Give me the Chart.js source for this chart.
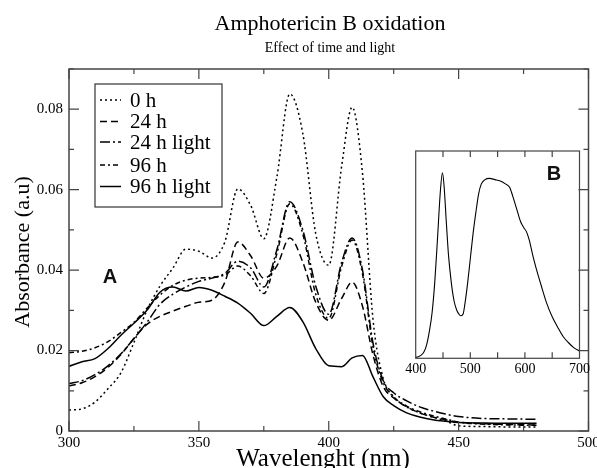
<!DOCTYPE html>
<html><head><meta charset="utf-8">
<script src="https://cdn.jsdelivr.net/npm/chart.js@4.4.1/dist/chart.umd.min.js"></script>
<style>
html,body{margin:0;padding:0;background:#fff;}
#wrap{position:relative;width:597px;height:468px;overflow:hidden;}
#main{position:absolute;left:0;top:0;width:597px;height:468px;}
#inset{position:absolute;left:400px;top:140px;width:197px;height:245px;}
</style></head><body>
<div id="wrap">
<canvas id="main" width="597" height="468"></canvas>
<canvas id="inset" width="197" height="245"></canvas>
</div>
<script>
// ---- data ----
const wavelengths = [300,305,310,315,320,325,330,335,340,345,350,355,360,365,370,375,380,385,390,395,400,405,409,413,417,421,425,430,435,440,445,450,460,470,480];
const abs0h      = [0.0052,0.0055,0.0072,0.0105,0.0145,0.022,0.030,0.036,0.0405,0.0452,0.0447,0.043,0.047,0.0602,0.056,0.0478,0.063,0.0838,0.074,0.049,0.0412,0.066,0.0805,0.064,0.028,0.013,0.0085,0.006,0.0045,0.0035,0.0025,0.0013,0.0011,0.001,0.001];
const abs24h     = [0.0112,0.012,0.0135,0.0158,0.019,0.023,0.0265,0.0285,0.0298,0.031,0.032,0.0325,0.037,0.047,0.0435,0.038,0.041,0.048,0.042,0.032,0.0275,0.033,0.037,0.031,0.019,0.011,0.0082,0.006,0.0045,0.0035,0.0028,0.0022,0.0018,0.0016,0.0015];
const abs24hLight= [0.0118,0.0125,0.014,0.0162,0.0192,0.023,0.027,0.0315,0.034,0.0358,0.0372,0.038,0.0392,0.0422,0.0405,0.0358,0.045,0.057,0.05,0.036,0.029,0.042,0.048,0.04,0.022,0.0125,0.0095,0.0075,0.006,0.005,0.0042,0.0036,0.0031,0.003,0.0029];
const abs96h     = [0.0195,0.0198,0.0207,0.0222,0.0245,0.027,0.0305,0.0338,0.0362,0.0375,0.038,0.0382,0.0388,0.041,0.0385,0.0342,0.044,0.0565,0.049,0.034,0.028,0.041,0.0475,0.039,0.021,0.012,0.0085,0.0062,0.0048,0.0038,0.003,0.0022,0.0017,0.0015,0.0014];
const abs96hLight= [0.0161,0.0172,0.018,0.0205,0.0238,0.0268,0.030,0.0345,0.0358,0.0348,0.0357,0.035,0.0335,0.0318,0.0292,0.0262,0.0285,0.0307,0.0272,0.0205,0.0162,0.016,0.0182,0.0188,0.0135,0.0085,0.0063,0.0045,0.0035,0.0028,0.0024,0.0021,0.002,0.0019,0.0019];
const seriesNames = ['0 h','24 h','24 h light','96 h','96 h light'];

const insetWavelengths = [400,405,410,415,420,425,430,435,440,445,449,452,456,460,465,470,475,480,483,487,490,495,500,505,510,515,520,527,535,545,555,565,572,578,585,592,598,603,608,615,620,630,640,650,660,670,680,690,700];
const insetIntensity   = [0.005,0.008,0.015,0.03,0.065,0.13,0.22,0.37,0.58,0.8,0.895,0.83,0.66,0.5,0.37,0.28,0.233,0.21,0.205,0.215,0.26,0.36,0.48,0.6,0.7,0.79,0.84,0.862,0.868,0.862,0.855,0.84,0.825,0.78,0.72,0.66,0.63,0.61,0.57,0.49,0.44,0.35,0.265,0.2,0.15,0.105,0.075,0.05,0.035];

const xTickLabels = [300,350,400,450,500];
const yTickLabels = ['0','0.02','0.04','0.06','0.08'];
const insetTickLabels = [400,500,600,700];

// ---- styles ----
const SERIF = '"Liberation Serif","Times New Roman","DejaVu Serif",serif';
const SANS = '"Liberation Sans",Arial,sans-serif';
const dashes = [[2,3],[7,4],[10,3,2,3],[5,3,2,3],[]];
const seriesValues = [abs0h, abs24h, abs24hLight, abs96h, abs96hLight];

function pts(xs, ys){ return xs.map((x,i)=>({x:x, y:ys[i]})); }

const mainDecor = {
  id:'mainDecor',
  afterDraw(chart){
    const ctx = chart.ctx, a = chart.chartArea, xs = chart.scales.x, ys = chart.scales.y;
    ctx.save();
    // frame
    ctx.strokeStyle = '#444'; ctx.lineWidth = 1.5;
    ctx.strokeRect(a.left, a.top, a.right-a.left, a.bottom-a.top);
    // ticks
    ctx.lineWidth = 1.2;
    ctx.beginPath();
    for (let v=300; v<=500; v+=25){
      const px = xs.getPixelForValue(v);
      const L = (v%50===0)?10:5;
      ctx.moveTo(px,a.bottom); ctx.lineTo(px,a.bottom-L);
      ctx.moveTo(px,a.top); ctx.lineTo(px,a.top+L);
    }
    for (let k=0; k<=9; k++){
      const py = ys.getPixelForValue(k*0.01);
      const L = (k%2===0)?10:5;
      ctx.moveTo(a.left,py); ctx.lineTo(a.left+L,py);
      ctx.moveTo(a.right,py); ctx.lineTo(a.right-L,py);
    }
    ctx.stroke();
    // titles
    ctx.fillStyle = '#000';
    ctx.textAlign = 'center'; ctx.textBaseline = 'middle';
    ctx.font = '22px '+SERIF;
    ctx.fillText('Amphotericin B oxidation', 330, 24);
    ctx.font = '14px '+SERIF;
    ctx.fillText('Effect of time and light', 330, 48);
    ctx.font = '25px '+SERIF;
    ctx.fillText('Wavelenght (nm)', 323, 459);
    ctx.font = '22px '+SERIF;
    ctx.save();
    ctx.translate(23, 252); ctx.rotate(-Math.PI/2);
    ctx.fillText('Absorbance (a.u)', 0, 0);
    ctx.restore();
    // panel label
    ctx.font = 'bold 20px '+SANS;
    ctx.fillStyle = '#111';
    ctx.fillText('A', 110, 277);
    // legend
    const lx=95, ly=84, lw=127, lh=123;
    ctx.fillStyle='#fff'; ctx.fillRect(lx,ly,lw,lh);
    ctx.strokeStyle='#333'; ctx.lineWidth=1.2; ctx.strokeRect(lx,ly,lw,lh);
    const rows=[100,121.5,142,165,186.5];
    chart.data.datasets.forEach((ds,i)=>{
      ctx.strokeStyle='#000'; ctx.lineWidth=1.5; ctx.setLineDash(ds.borderDash||[]);
      ctx.beginPath(); ctx.moveTo(100,rows[i]); ctx.lineTo(121,rows[i]); ctx.stroke();
      ctx.setLineDash([]);
      ctx.fillStyle='#000'; ctx.font='21px '+SERIF; ctx.textAlign='left';
      ctx.fillText(ds.label, 130, rows[i]+1);
    });
    ctx.restore();
  }
};

new Chart(document.getElementById('main'), {
  type:'line',
  data:{ datasets: seriesValues.map((ys,i)=>({
    label: seriesNames[i], data: pts(wavelengths, ys),
    borderColor:'#000', borderWidth:1.5, borderDash: dashes[i],
    pointRadius:0, fill:false, cubicInterpolationMode:'monotone'
  }))},
  options:{
    responsive:false, animation:false, devicePixelRatio:1,
    layout:{padding:{top:69, right:8.5, left:0, bottom:0}},
    plugins:{legend:{display:false}, tooltip:{enabled:false}, title:{display:false}},
    scales:{
      x:{type:'linear', min:300, max:500,
         grid:{display:false, drawTicks:false}, border:{display:false},
         ticks:{stepSize:50, autoSkip:false, maxRotation:0, padding:3, color:'#000', font:{family:SERIF, size:15},
                callback:(v)=> xTickLabels.includes(v) ? String(v) : ''},
         afterFit(s){ s.height = 37; s.paddingLeft=0; s.paddingRight=0; }},
      y:{type:'linear', min:0, max:0.09,
         grid:{display:false, drawTicks:false}, border:{display:false},
         ticks:{stepSize:0.02, includeBounds:false, autoSkip:false, padding:6, color:'#000', font:{family:SERIF, size:15},
                callback:(v)=> { const i=Math.round(v/0.02); return (Math.abs(v-i*0.02)<1e-6 && yTickLabels[i]!==undefined) ? yTickLabels[i] : ''; }},
         afterFit(s){ s.width = 69; s.paddingTop=0; s.paddingBottom=0; }}
    }
  },
  plugins:[mainDecor]
});

const insetDecor = {
  id:'insetDecor',
  afterDraw(chart){
    const ctx=chart.ctx, a=chart.chartArea, xs=chart.scales.x;
    ctx.save();
    ctx.strokeStyle='#444'; ctx.lineWidth=1.2;
    ctx.strokeRect(a.left,a.top,a.right-a.left,a.bottom-a.top);
    ctx.beginPath();
    for (let v=450; v<700; v+=50){
      const px=xs.getPixelForValue(v);
      ctx.moveTo(px,a.bottom); ctx.lineTo(px,a.bottom-6);
      ctx.moveTo(px,a.top); ctx.lineTo(px,a.top+6);
    }
    ctx.stroke();
    ctx.font='bold 20px '+SANS; ctx.fillStyle='#111';
    ctx.textAlign='center'; ctx.textBaseline='middle';
    ctx.fillText('B', 154, 34);
    ctx.restore();
  }
};

new Chart(document.getElementById('inset'), {
  type:'line',
  data:{ datasets:[{ label:'light', data: pts(insetWavelengths, insetIntensity),
    borderColor:'#000', borderWidth:1.1, pointRadius:0, fill:false, cubicInterpolationMode:'monotone' }]},
  options:{
    responsive:false, animation:false, devicePixelRatio:1,
    layout:{padding:{top:11, right:17.5, left:15.7, bottom:0}},
    plugins:{legend:{display:false}, tooltip:{enabled:false}},
    scales:{
      x:{type:'linear', min:400, max:700,
         grid:{display:false, drawTicks:false}, border:{display:false},
         ticks:{stepSize:100, autoSkip:false, maxRotation:0, padding:3, color:'#000', font:{family:SERIF, size:14},
                callback:(v)=> insetTickLabels.includes(v) ? String(v) : ''},
         afterFit(s){ s.height = 26.7; s.paddingLeft=0; s.paddingRight=0; }},
      y:{type:'linear', min:0, max:1, display:false}
    }
  },
  plugins:[insetDecor]
});
</script>
</body></html>
